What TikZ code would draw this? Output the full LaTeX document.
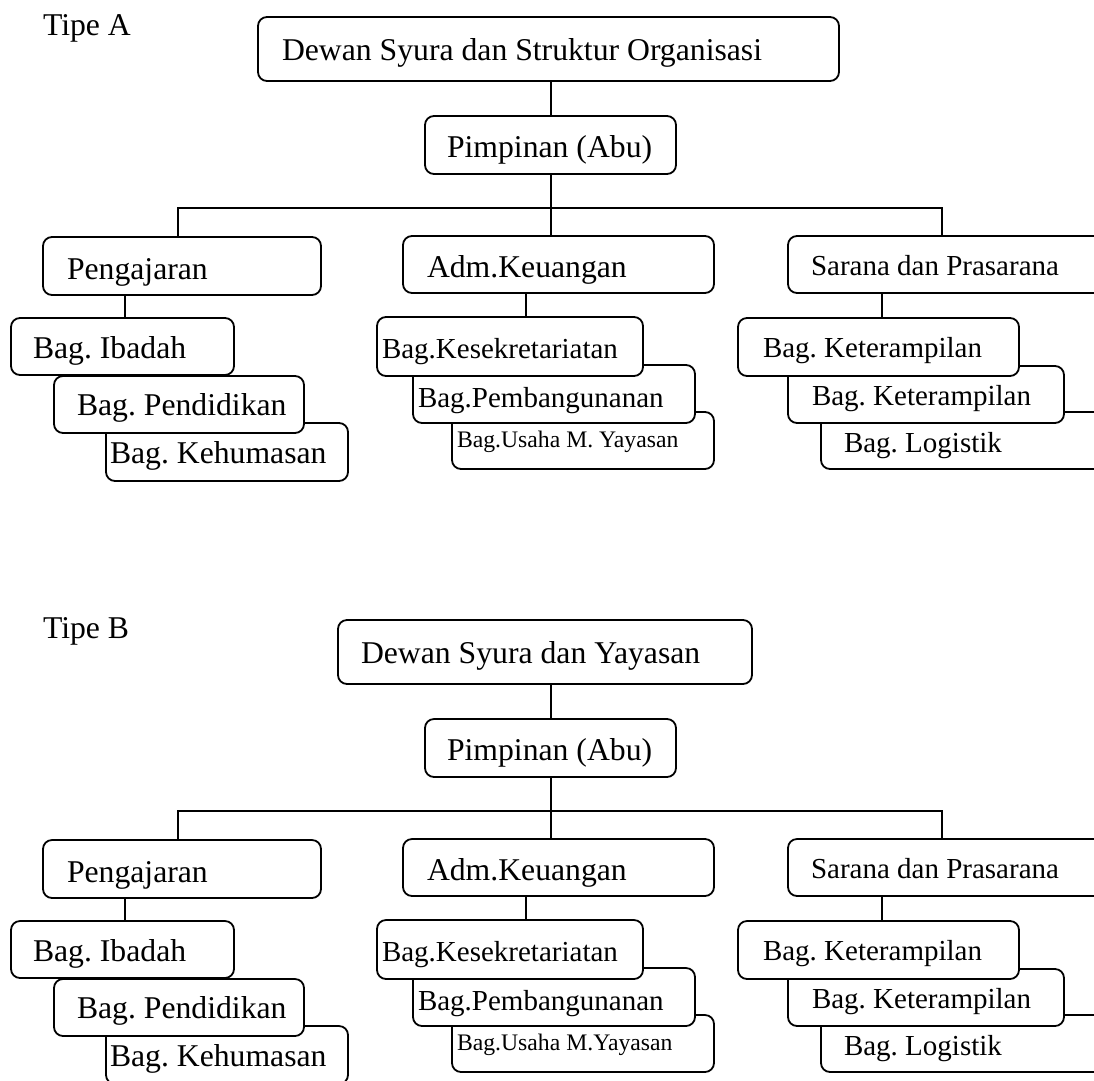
\documentclass[tikz,border=0pt]{standalone}
\usepackage{fontspec}
\setmainfont{Liberation Serif}
\frenchspacing
\newcommand\fbig{\fontsize{31.7}{38}\selectfont}
\newcommand\fmed{\fontsize{29}{35}\selectfont}
\newcommand\fsml{\fontsize{23.7}{28}\selectfont}
\tikzset{
  obx/.style={draw=black, fill=white, line width=1.8pt, rounded corners=9pt, inner sep=0pt, outer sep=0pt},
  conn/.style={draw=black, line width=1.8pt},
  lbl/.style={anchor=base west, inner sep=0pt, outer sep=0pt}
}
% name, x1, y1, x2, y2, text x, baseline y, font, text
\newcommand\obox[9]{%
  \node[obx, minimum width={#4pt-#2pt}, minimum height={#5pt-#3pt}, anchor=north west] (#1) at (#2,#3) {};
  \node[lbl, font=#8] (#1-t) at (#6,#7) {#9};
}
\begin{document}
\begin{tikzpicture}[x=1pt,y=-1pt]
\useasboundingbox (0,0) rectangle (1094,1080);
\clip (0,0) rectangle (1094,1080);
\fill[white] (0,0) rectangle (1094,1080);

% ================= Tipe A =================
\node[lbl, font=\fbig] (tipeA) at (43,35) {Tipe A};
\obox{dewanA}{258}{17}{839}{81}{282}{60}{\fbig}{Dewan Syura dan Struktur Organisasi}
\obox{pimpA}{425}{116}{676}{174}{447}{157}{\fbig}{Pimpinan (Abu)}
\obox{pengA}{43}{237}{321}{295}{67}{279}{\fbig}{Pengajaran}
\obox{admA}{403}{236}{714}{293}{427}{277}{\fbig}{Adm.Keuangan}
\obox{sarA}{788}{236}{1110}{293}{811}{275}{\fmed}{Sarana dan Prasarana}
% left stack
\obox{kehA}{106}{423}{348}{481}{110}{463}{\fbig}{Bag. Kehumasan}
\obox{penA}{54}{376}{304}{433}{77}{415}{\fbig}{Bag. Pendidikan}
\obox{ibaA}{11}{318}{234}{375}{33}{358}{\fbig}{Bag. Ibadah}
% middle stack
\obox{usaA}{452}{412}{714}{469}{457}{447}{\fsml}{Bag.Usaha M. Yayasan}
\obox{pemA}{413}{365}{695}{423}{418}{407}{\fmed}{Bag.Pembangunanan}
\obox{kesA}{377}{317}{643}{376}{382}{358}{\fmed}{Bag.Kesekretariatan}
% right stack
\obox{logA}{821}{412}{1110}{469}{844}{452}{\fmed}{Bag. Logistik}
\obox{ketbA}{788}{366}{1064}{423}{812}{405}{\fmed}{Bag. Keterampilan}
\obox{ketaA}{738}{318}{1019}{376}{763}{357}{\fmed}{Bag. Keterampilan}
% connectors
\coordinate (jA) at (551,0);
\coordinate (hlA) at (178,208);
\coordinate (hrA) at (942,208);
\coordinate (cpA) at (125,0);
\coordinate (caA) at (526,0);
\coordinate (csA) at (882,0);
\draw[conn] (dewanA.south -| jA) -- (pimpA.north -| jA);
\draw[conn] (pimpA.south -| jA) -- (admA.north -| jA);
\draw[conn] (pengA.north -| hlA) -- (hlA) -- (hrA) -- (sarA.north -| hrA);
\draw[conn] (pengA.south -| cpA) -- (ibaA.north -| cpA);
\draw[conn] (admA.south -| caA) -- (kesA.north -| caA);
\draw[conn] (sarA.south -| csA) -- (ketaA.north -| csA);

% ================= Tipe B =================
\node[lbl, font=\fbig] (tipeB) at (43,638) {Tipe B};
\obox{dewanB}{338}{620}{752}{684}{361}{663}{\fbig}{Dewan Syura dan Yayasan}
\obox{pimpB}{425}{719}{676}{777}{447}{760}{\fbig}{Pimpinan (Abu)}
\obox{pengB}{43}{840}{321}{898}{67}{882}{\fbig}{Pengajaran}
\obox{admB}{403}{839}{714}{896}{427}{880}{\fbig}{Adm.Keuangan}
\obox{sarB}{788}{839}{1110}{896}{811}{878}{\fmed}{Sarana dan Prasarana}
% left stack
\obox{kehB}{106}{1026}{348}{1084}{110}{1066}{\fbig}{Bag. Kehumasan}
\obox{penB}{54}{979}{304}{1036}{77}{1018}{\fbig}{Bag. Pendidikan}
\obox{ibaB}{11}{921}{234}{978}{33}{961}{\fbig}{Bag. Ibadah}
% middle stack
\obox{usaB}{452}{1015}{714}{1072}{457}{1050}{\fsml}{Bag.Usaha M.Yayasan}
\obox{pemB}{413}{968}{695}{1026}{418}{1010}{\fmed}{Bag.Pembangunanan}
\obox{kesB}{377}{920}{643}{979}{382}{961}{\fmed}{Bag.Kesekretariatan}
% right stack
\obox{logB}{821}{1015}{1110}{1072}{844}{1055}{\fmed}{Bag. Logistik}
\obox{ketbB}{788}{969}{1064}{1026}{812}{1008}{\fmed}{Bag. Keterampilan}
\obox{ketaB}{738}{921}{1019}{979}{763}{960}{\fmed}{Bag. Keterampilan}
% connectors
\coordinate (jB) at (551,0);
\coordinate (hlB) at (178,811);
\coordinate (hrB) at (942,811);
\draw[conn] (dewanB.south -| jB) -- (pimpB.north -| jB);
\draw[conn] (pimpB.south -| jB) -- (admB.north -| jB);
\draw[conn] (pengB.north -| hlB) -- (hlB) -- (hrB) -- (sarB.north -| hrB);
\draw[conn] (pengB.south -| cpA) -- (ibaB.north -| cpA);
\draw[conn] (admB.south -| caA) -- (kesB.north -| caA);
\draw[conn] (sarB.south -| csA) -- (ketaB.north -| csA);
\end{tikzpicture}
\end{document}
